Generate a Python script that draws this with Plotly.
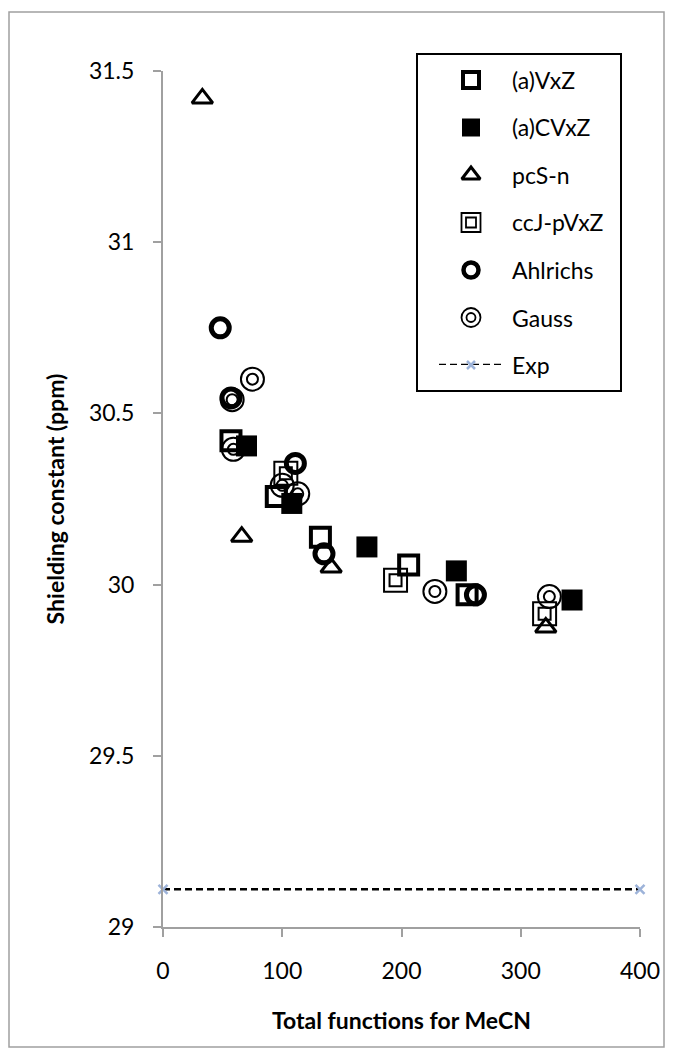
import plotly.graph_objects as go

# ---- data ----
avxz_x = [57, 95, 132, 206, 255]
avxz_y = [30.42, 30.257, 30.138, 30.057, 29.97]

acvxz_x = [70, 108, 171, 246, 343]
acvxz_y = [30.405, 30.237, 30.11, 30.04, 29.955]

pcsn_x = [33, 66, 141, 321]
pcsn_y = [31.42, 30.14, 30.05, 29.875]

ccj_x = [103, 195, 320]
ccj_y = [30.325, 30.013, 29.915]

ahl_x = [48, 57, 111, 135, 262]
ahl_y = [30.75, 30.545, 30.354, 30.09, 29.97]

gauss_x = [59, 58, 75, 100, 113, 228, 324]
gauss_y = [30.395, 30.54, 30.60, 30.29, 30.265, 29.98, 29.965]

exp_x = [0, 400]
exp_y = [29.11, 29.11]

legend_names = ["(a)VxZ", "(a)CVxZ", "pcS-n", "ccJ-pVxZ", "Ahlrichs", "Gauss", "Exp"]

x_ticks = [0, 100, 200, 300, 400]
y_ticks = [29, 29.5, 30, 30.5, 31, 31.5]

FONT = "Lato"
W, H = 673, 1059
L, R, T, B = 163, 33, 71, 132
PW, PH = W - L - R, H - T - B


def px_x(p):
    return (p - L) / PW


def px_y(p):
    return (H - B - p) / PH


fig = go.Figure()

BLK = "black"
XCOL = "#9db3d9"

# main data traces
fig.add_trace(go.Scatter(x=exp_x, y=exp_y, mode="lines+markers",
                         line=dict(color=BLK, width=2.5, dash="7px,4px"),
                         marker=dict(symbol="x-thin", size=9, color=XCOL,
                                     line=dict(color=XCOL, width=2.5)),
                         cliponaxis=False))
fig.add_trace(go.Scatter(x=pcsn_x, y=pcsn_y, mode="markers",
                         marker=dict(symbol="triangle-up-open", size=18, color=BLK,
                                     line=dict(width=3, color=BLK))))
fig.add_trace(go.Scatter(x=ccj_x, y=ccj_y, mode="markers",
                         marker=dict(symbol="square-open", size=23, color=BLK,
                                     line=dict(width=2, color=BLK))))
fig.add_trace(go.Scatter(x=ccj_x, y=ccj_y, mode="markers",
                         marker=dict(symbol="square-open", size=12, color=BLK,
                                     line=dict(width=2, color=BLK))))
fig.add_trace(go.Scatter(x=gauss_x, y=gauss_y, mode="markers",
                         marker=dict(symbol="circle-open", size=23, color=BLK,
                                     line=dict(width=2, color=BLK))))
fig.add_trace(go.Scatter(x=gauss_x, y=gauss_y, mode="markers",
                         marker=dict(symbol="circle-open", size=11, color=BLK,
                                     line=dict(width=2, color=BLK))))
fig.add_trace(go.Scatter(x=ahl_x, y=ahl_y, mode="markers",
                         marker=dict(symbol="circle-open", size=18, color=BLK,
                                     line=dict(width=5, color=BLK))))
fig.add_trace(go.Scatter(x=avxz_x, y=avxz_y, mode="markers",
                         marker=dict(symbol="square-open", size=19, color=BLK,
                                     line=dict(width=4, color=BLK))))
fig.add_trace(go.Scatter(x=acvxz_x, y=acvxz_y, mode="markers",
                         marker=dict(symbol="square", size=21, color=BLK,
                                     line=dict(width=0))))

# ---- custom legend on an auxiliary axis pair ----
idx = list(range(len(legend_names)))
lx = [0.5]


def leg(i, **marker):
    fig.add_trace(go.Scatter(x=lx, y=[idx[i]], mode="markers", xaxis="x2", yaxis="y2",
                             marker=marker, cliponaxis=False))


fig.add_trace(go.Scatter(x=[0, 1], y=[idx[6], idx[6]], mode="lines", xaxis="x2", yaxis="y2",
                         line=dict(color=BLK, width=2.5, dash="7px,4px"), cliponaxis=False))
leg(0, symbol="square-open", size=16, color=BLK, line=dict(width=4, color=BLK))
leg(1, symbol="square", size=18, color=BLK, line=dict(width=0))
leg(2, symbol="triangle-up-open", size=16, color=BLK, line=dict(width=3, color=BLK))
leg(3, symbol="square-open", size=19, color=BLK, line=dict(width=1.8, color=BLK))
leg(3, symbol="square-open", size=10, color=BLK, line=dict(width=1.8, color=BLK))
leg(4, symbol="circle-open", size=15, color=BLK, line=dict(width=4.5, color=BLK))
leg(5, symbol="circle-open", size=19, color=BLK, line=dict(width=1.8, color=BLK))
leg(5, symbol="circle-open", size=9, color=BLK, line=dict(width=1.8, color=BLK))
leg(6, symbol="x-thin", size=8, color=XCOL, line=dict(width=2.5, color=XCOL))

for i, name in enumerate(legend_names):
    fig.add_annotation(x=px_x(510), xref="paper", y=idx[i], yref="y2", text=name,
                       showarrow=False, xanchor="left", yanchor="middle",
                       font=dict(family=FONT, size=23, color=BLK))

# legend box and outer border
fig.add_shape(type="rect", xref="paper", yref="paper",
              x0=px_x(417), x1=px_x(621), y0=px_y(391), y1=px_y(54),
              line=dict(color=BLK, width=2), fillcolor="rgba(0,0,0,0)", layer="below")
fig.add_shape(type="rect", xref="paper", yref="paper",
              x0=px_x(9), x1=px_x(664), y0=px_y(1047), y1=px_y(12),
              line=dict(color="#a0a0a0", width=1.5), fillcolor="rgba(0,0,0,0)", layer="below")

axis_common = dict(showgrid=False, zeroline=False, showline=True, linecolor="#a0a0a0",
                   linewidth=2, ticks="outside", ticklen=8, tickwidth=2, tickcolor="#a0a0a0",
                   tickfont=dict(family=FONT, size=23, color=BLK))

fig.update_layout(
    width=W, height=H,
    margin=dict(l=L, r=R, t=T, b=B),
    paper_bgcolor="white", plot_bgcolor="rgba(0,0,0,0)",
    showlegend=False,
    xaxis=dict(range=[0, 400], tickvals=x_ticks, ticklabelstandoff=14,
               title=dict(text="<b>Total functions for MeCN</b>", standoff=30,
                          font=dict(family=FONT, size=23, color=BLK)),
               **axis_common),
    yaxis=dict(range=[29, 31.5], tickvals=y_ticks, ticklabelstandoff=14,
               title=dict(text="<b>Shielding constant (ppm)</b>", standoff=18,
                          font=dict(family=FONT, size=23, color=BLK)),
               **axis_common),
    xaxis2=dict(domain=[px_x(439), px_x(503)], range=[0, 1], visible=False, anchor="y2"),
    yaxis2=dict(domain=[px_y(365), px_y(80)], range=[6, 0], visible=False, anchor="x2"),
)

fig.write_html("out.html")
